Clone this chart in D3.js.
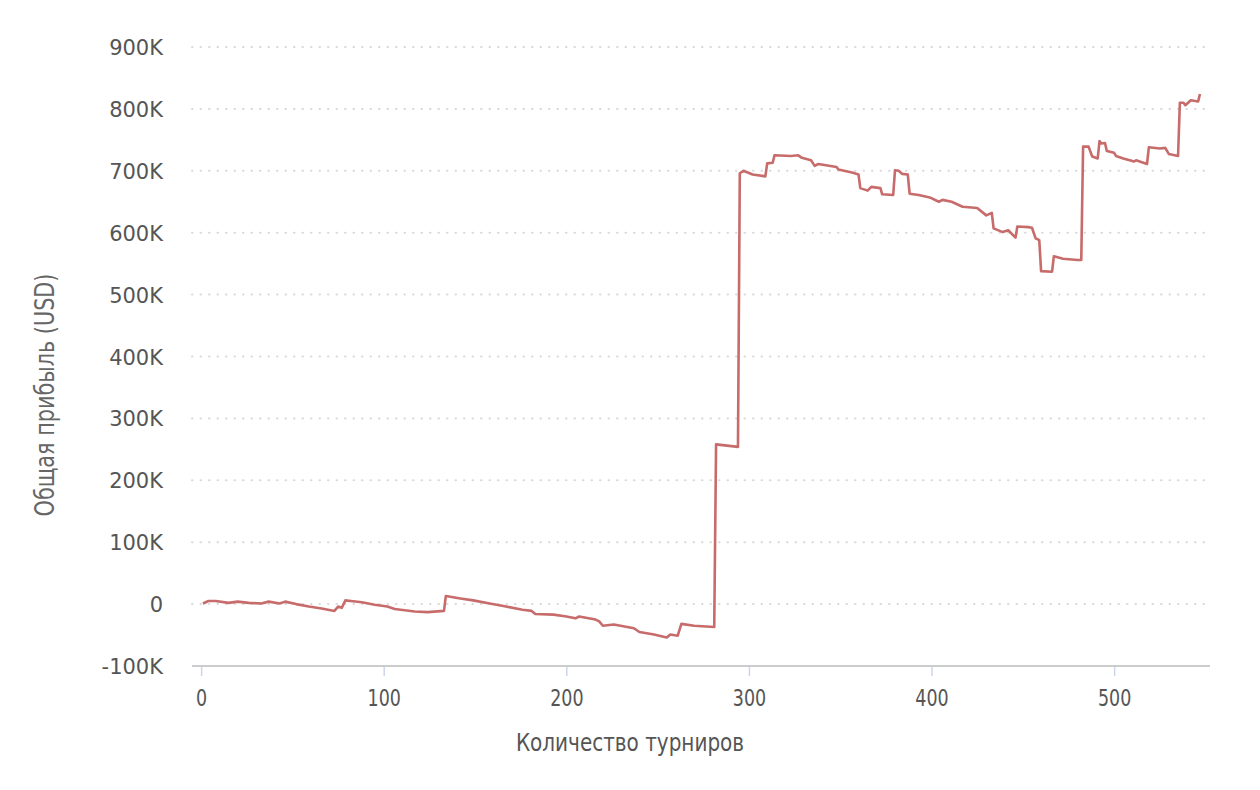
<!DOCTYPE html>
<html>
<head>
<meta charset="utf-8">
<script src="https://cdn.jsdelivr.net/npm/d3@7/dist/d3.min.js"></script>
<style>
  html, body { margin: 0; padding: 0; background: #ffffff; }
  svg { display: block; }
</style>
</head>
<body>
<svg id="chart" width="1260" height="790"></svg>
<script>
// ---- data (tournament number, cumulative profit in thousands USD) ----
const tourneys = [1, 4, 8, 15, 20, 26, 33, 37, 43, 46, 52, 59, 66, 73, 75, 77, 79, 82, 88, 95, 102, 106, 117, 124, 133, 134, 142, 149, 158, 167, 176, 181, 183, 193, 200, 205, 207, 216, 218, 220, 226, 237, 240, 248, 255, 257, 261, 263, 270, 281, 282, 294, 295, 297, 302, 309, 310, 313, 314, 323, 327, 329, 334, 336, 338, 348, 349, 357, 360, 361, 365, 367, 372, 373, 379, 380, 382, 384, 387, 388, 393, 399, 404, 406, 411, 417, 425, 430, 433, 434, 439, 442, 446, 447, 453, 455, 457, 459, 460, 466, 467, 472, 480, 482, 483, 486, 488, 491, 492, 493, 495, 496, 500, 501, 505, 511, 512, 518, 519, 525, 528, 530, 535, 536, 538, 539, 542, 546, 547];
const profitK = [1, 5, 5, 2, 4, 2, 1, 4, 1, 4, 0, -4, -7, -11, -4, -6, 6, 5, 3, -1, -4, -8, -12, -13, -11, 13, 9, 6, 1, -4, -9, -11, -16, -17, -20, -23, -20, -25, -28, -35, -33, -39, -45, -49, -54, -49, -51, -32, -35, -37, 258, 254, 696, 700, 694, 691, 712, 713, 725, 724, 725, 721, 717, 708, 711, 706, 702, 697, 694, 672, 668, 674, 672, 662, 661, 701, 700, 695, 694, 663, 661, 657, 650, 653, 650, 642, 640, 628, 632, 607, 601, 604, 592, 610, 609, 608, 591, 588, 538, 537, 562, 558, 556, 556, 739, 739, 723, 720, 748, 744, 745, 732, 729, 724, 720, 715, 717, 711, 738, 736, 737, 727, 724, 810, 810, 806, 814, 812, 824];
const xTicks = [0, 100, 200, 300, 400, 500];
const yTicks = [-100, 0, 100, 200, 300, 400, 500, 600, 700, 800, 900];
const xTitle = "Количество турниров";
const yTitle = "Общая прибыль (USD)";

const data = tourneys.map((t, i) => ({ t, v: profitK[i] }));

const svg = d3.select("#chart");
const pLeft = 192, pRight = 1210, pTop = 47, pBottom = 666;

const x = d3.scaleLinear().domain([-5, 552.5]).range([pLeft, pRight]);
const y = d3.scaleLinear().domain([-100, 900]).range([pBottom, pTop]);

const fmtY = v => v === 0 ? "0" : (v + "K");

// grid lines (dotted)
svg.append("g")
  .selectAll("line")
  .data(yTicks.filter(v => v > -100))
  .join("line")
  .attr("x1", pLeft).attr("x2", pRight)
  .attr("y1", d => y(d)).attr("y2", d => y(d))
  .attr("stroke", "#d9d9d9")
  .attr("stroke-width", 2)
  .attr("stroke-linecap", "round")
  .attr("stroke-dasharray", "0.5,8");

// y axis labels
const yAxis = d3.axisLeft(y).tickValues(yTicks).tickFormat(fmtY).tickSize(0).tickPadding(0);
const gy = svg.append("g").attr("transform", "translate(163,0)").call(yAxis);
gy.select(".domain").remove();
gy.selectAll("text")
  .attr("font-family", "'DejaVu Sans', sans-serif")
  .attr("font-size", 21)
  .attr("fill", "#555555")
  .attr("dy", "0.36em");

// x axis
const xAxis = d3.axisBottom(x).tickValues(xTicks).tickFormat(d3.format("d")).tickSize(10).tickPadding(10);
const gx = svg.append("g").attr("transform", `translate(0,${pBottom})`).call(xAxis);
gx.select(".domain").remove();
gx.selectAll(".tick line").attr("stroke", "#ccd6eb").attr("stroke-width", 1.5);
gx.selectAll(".tick text")
  .attr("font-family", "'DejaVu Sans', sans-serif")
  .attr("font-size", 23)
  .attr("fill", "#555555")
  .attr("dy", "0.85em")
  .attr("transform", "scale(0.76,1)");
gx.append("line")
  .attr("x1", pLeft).attr("x2", pRight)
  .attr("y1", 0).attr("y2", 0)
  .attr("stroke", "#cccccc").attr("stroke-width", 2);

// line
const line = d3.line().x(d => x(d.t)).y(d => y(d.v));
svg.append("path")
  .datum(data)
  .attr("d", line)
  .attr("fill", "none")
  .attr("stroke", "#c76b6b")
  .attr("stroke-width", 2.6)
  .attr("stroke-linejoin", "round");

// axis titles
svg.append("text")
  .attr("transform", "translate(630,751) scale(0.8,1)")
  .attr("text-anchor", "middle")
  .attr("font-family", "'DejaVu Sans', sans-serif")
  .attr("font-size", 25)
  .attr("fill", "#555555")
  .text(xTitle);

svg.append("text")
  .attr("transform", "translate(54,395) rotate(-90) scale(0.8,1)")
  .attr("text-anchor", "middle")
  .attr("font-family", "'DejaVu Sans', sans-serif")
  .attr("font-size", 26)
  .attr("fill", "#666666")
  .text(yTitle);
</script>
</body>
</html>
